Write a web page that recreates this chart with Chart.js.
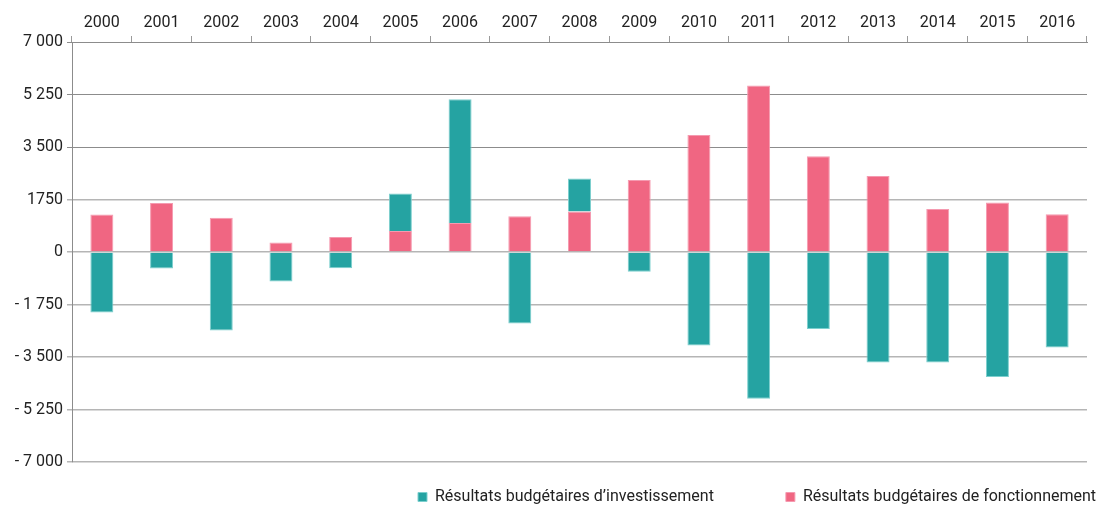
<html>
  <head>
    <script src="https://cdn.jsdelivr.net/npm/chart.js@4.4.0/dist/chart.umd.min.js"></script>
    <style>
      body { margin: 0; background: #fff; }
      #wrap { width: 1102px; height: 508px; }
    </style>
  </head>
  <body>
    <div id="wrap">
      <canvas id="myChart"></canvas>
    </div>

    <script>
      const years = ["2000", "2001", "2002", "2003", "2004", "2005", "2006", "2007", "2008",
        "2009", "2010", "2011", "2012", "2013", "2014", "2015", "2016"];
      const fonctionnement = [1250, 1630, 1140, 320, 500, 700, 970, 1190, 1350,
        2400, 3900, 5550, 3190, 2530, 1430, 1650, 1260];
      const investissement = [-2020, -550, -2620, -980, -540, 1250, 4120, -2380, 1100,
        -660, -3120, -4890, -2570, -3680, -3680, -4170, -3180];
      const yTickLabels = ["- 7 000", "- 5 250", "- 3 500", "- 1 750", "0", "1750", "3 500", "5 250", "7 000"];

      const TEAL = "#25a3a2";
      const PINK = "#f06682";

      // move the legend to where the original one sits (bottom right, wide gap)
      const legendPlacer = {
        id: "legendPlacer",
        afterLayout(chart) {
          const lg = chart.legend;
          const pad = lg.options.labels.padding;
          lg.left = 418 - pad;
          lg.right = 3000;
          lg.top = 497 - 8 - pad;
        },
      };

      const data = {
        labels: years,
        datasets: [
          {
            label: "Résultats budgétaires de fonctionnement",
            data: fonctionnement,
            backgroundColor: PINK,
            borderColor: "#f59ab0",
            borderWidth: 1,
            barPercentage: 0.385,
            categoryPercentage: 1,
          },
          {
            label: "Résultats budgétaires d’investissement",
            data: investissement,
            backgroundColor: TEAL,
            borderColor: "#7ccfce",
            borderWidth: 1,
            barPercentage: 0.385,
            categoryPercentage: 1,
          },
        ],
      };

      const config = {
        type: "bar",
        data: data,
        plugins: [legendPlacer],
        options: {
          responsive: true,
          maintainAspectRatio: false,
          animation: false,
          layout: { padding: { left: 0, right: 15, top: 0, bottom: 0 } },
          scales: {
            x: {
              stacked: true,
              position: "top",
              afterFit: (s) => { s.height = 42; },
              grid: {
                drawOnChartArea: false,
                tickLength: 6,
                color: "#9a9a9a",
              },
              border: { color: "#8c8c8c" },
              ticks: {
                padding: 3,
                color: "#222",
                font: { family: "Roboto", size: 16 },
                maxRotation: 0,
              },
            },
            y: {
              stacked: true,
              min: -7000,
              max: 7000,
              afterFit: (s) => { s.width = 72; },
              ticks: {
                stepSize: 1750,
                padding: 4,
                color: "#222",
                font: { family: "Roboto", size: 16 },
                callback: (v, i) => yTickLabels[i],
              },
              grid: {
                tickLength: 5,
                color: (c) => (c.tick && c.tick.value > 1750 ? "#8c8c8c" : "#b5b5b5"),
                lineWidth: (c) => (c.tick && c.tick.value > 1750 ? 1 : 1.5),
              },
              border: { color: "#8c8c8c" },
            },
          },
          plugins: {
            tooltip: { enabled: false },
            legend: {
              position: "bottom",
              align: "start",
              reverse: true,
              maxHeight: 46,
              labels: {
                boxWidth: 9,
                boxHeight: 9,
                padding: 72,
                color: "#222",
                font: { family: "Roboto", size: 16 },
              },
            },
          },
        },
      };

      const myChart = new Chart(document.getElementById("myChart"), config);
    </script>
  </body>
</html>
